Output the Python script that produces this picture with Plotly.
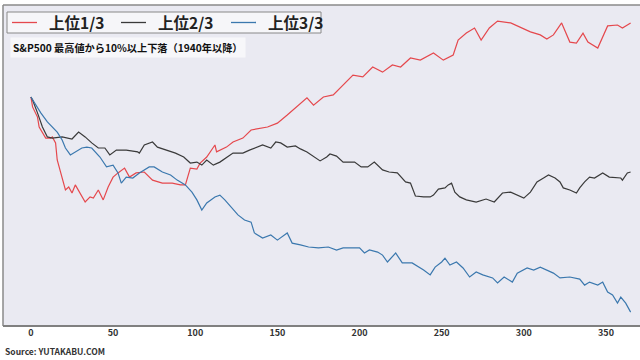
import plotly.graph_objects as go

# Days since drawdown start and relative performance (%) for each group
red_t = [0,1,4,5,9,12,13,15,16,19,21,23,25,27,30,33,36,38,41,44,47,50,53,57,60,64,69,74,80,86,91,94,97,101,103,107,112,113,119,123,129,134,144,150,156,162,168,172,178,184,188,192,196,202,208,214,220,225,231,237,245,251,257,260,265,270,274,279,284,292,298,304,310,314,318,323,328,332,336,339,345,351,357,360,365]
red_v = [0,-3.3,-6.7,-10,-13.7,-13.7,-13.3,-15.3,-21,-26.7,-31,-30,-32,-29.3,-32,-35,-33.3,-33.7,-31,-34.3,-30,-26.7,-25.3,-23.7,-26.7,-25.3,-25,-27.7,-28.7,-28.7,-29.3,-29.3,-23.7,-24,-22,-20,-16,-18.3,-16.7,-15,-13.7,-11,-10,-8.7,-6,-3.3,-0.3,-2.7,0,0.7,3,5,7.3,6.7,10,8.3,10.7,10,13,12.3,14.7,12.3,14,19,21.3,23,19,23,25.3,24.7,23.3,21.7,20.7,19.3,20.7,24.7,18.3,18,21.3,18.3,16.3,23.7,24,23,24.7]

black_t = [0,1,4,7,10,13,19,25,29,33,37,41,45,48,52,58,65,66,69,74,77,82,88,93,97,101,104,107,111,115,119,123,125,129,133,138,141,146,149,152,156,161,164,168,172,176,180,182,186,190,197,201,205,209,214,218,223,228,231,234,239,243,245,248,252,254,256,258,261,265,271,277,282,287,292,296,300,304,308,312,315,319,322,324,328,332,334,337,340,343,348,352,359,360,363,365]
black_v = [0,-1,-5.3,-10,-13.3,-13.7,-13.3,-14,-11.7,-13.3,-15.3,-17,-17,-19.3,-17.7,-17.7,-18.3,-18.7,-16,-15,-16.7,-17.7,-18.7,-20,-22,-21.7,-22.7,-21,-22.7,-21.7,-20.3,-18.7,-18.7,-18.7,-17.7,-16.7,-16,-17,-15,-15.3,-16.7,-16.3,-17.3,-18.3,-19.7,-21.3,-20,-19,-19.7,-21.7,-21.7,-23.3,-23.3,-21.7,-24.3,-25,-25.3,-28.3,-28.7,-33,-33.3,-33.3,-32.7,-30.7,-30.3,-29.3,-28.7,-31.7,-33.3,-34.3,-35,-34,-35,-32,-31.7,-32.7,-33.7,-31.7,-28.3,-27,-26,-27,-28.3,-30.3,-31,-32,-30.3,-28.3,-26.7,-27,-25.3,-26.7,-27,-27.7,-25.3,-25]

blue_t = [0,6,10,13,16,19,21,24,27,31,34,37,42,46,50,53,55,58,62,66,72,75,80,85,89,94,98,101,104,107,112,115,118,122,126,130,134,136,141,146,150,156,159,164,169,175,181,186,190,196,200,203,206,211,214,217,222,226,232,239,243,246,250,252,255,259,263,267,271,275,281,284,288,293,296,302,306,310,314,318,322,328,334,337,340,345,348,351,354,357,359,362,365]
blue_v = [0,-5.3,-8.3,-10,-11.7,-14.3,-17,-19.3,-18.3,-17,-16.7,-17,-20,-23.3,-22.7,-25.3,-28.7,-26.7,-27,-25.3,-23.3,-23.3,-25,-26,-27.7,-29.3,-31.7,-34.3,-37.7,-35.3,-33.3,-32.7,-34.3,-36.7,-39.3,-41,-41.7,-45.3,-47,-46,-47.7,-45.3,-48.7,-49.3,-50,-50.3,-50,-51,-50.3,-50.3,-50.3,-52,-51,-51.7,-52.7,-55,-52,-55.3,-55.3,-57.7,-59.3,-56.7,-55,-53.7,-56,-55,-57,-60,-58.3,-59.3,-60.3,-62,-60,-61.7,-58.7,-57,-57.7,-56.7,-57.7,-58.7,-60.3,-60,-60.7,-62.7,-61.7,-62.7,-61.7,-65,-66,-68.7,-66.7,-68.7,-71.7]

names = ["上位1/3", "上位2/3", "上位3/3"]
colors = ["#E5484D", "#3A3A3A", "#3B78AE"]
x_ticks = [0, 50, 100, 150, 200, 250, 300, 350]
subtitle = "S&P500 最高値から10%以上下落（1940年以降）"
source = "Source: YUTAKABU.COM"

FONT = "Noto Sans CJK JP, Noto Sans, sans-serif"

fig = go.Figure()
for t, v, n, c in zip([red_t, black_t, blue_t], [red_v, black_v, blue_v], names, colors):
    fig.add_trace(go.Scatter(x=t, y=v, mode="lines", name=n, showlegend=False,
                             line=dict(color=c, width=1.2)))

# Plot area in pixels: x 3..640, y 5..326
def px(x):
    return (x - 3) / 637.0

def py(y):
    return (326 - y) / 321.0

shapes = [
    dict(type="line", xref="paper", yref="paper", x0=0, x1=1, y0=1, y1=1,
         line=dict(color="#8A8A8A", width=1.5)),
    dict(type="line", xref="paper", yref="paper", x0=0, x1=0, y0=0, y1=1,
         line=dict(color="#8A8A8A", width=1.5)),
    dict(type="line", xref="paper", yref="paper", x0=0, x1=1, y0=0, y1=0,
         line=dict(color="#808080", width=2)),
    # legend box
    dict(type="rect", xref="paper", yref="paper", x0=px(7), x1=px(321), y0=py(33), y1=py(12),
         fillcolor="#F6F6F9", line=dict(color="#888888", width=1)),
]
annotations = [
    dict(text=subtitle, xref="paper", yref="paper", x=px(10), y=py(47),
         xanchor="left", yanchor="middle", showarrow=False,
         bgcolor="#F7F7FA", borderpad=2,
         font=dict(size=10.2, family=FONT, color="#111111", weight="bold")),
    dict(text=source, xref="paper", yref="paper", x=0.0, y=py(351),
         xanchor="left", yanchor="middle", showarrow=False,
         font=dict(size=8.5, family=FONT, color="#333333", weight="bold")),
]
leg_line_x = [12, 121, 231]
for lx, n, c in zip(leg_line_x, names, colors):
    shapes.append(dict(type="line", xref="paper", yref="paper", x0=px(lx), x1=px(lx + 25),
                       y0=py(22.5), y1=py(22.5), line=dict(color=c, width=1.3)))
    annotations.append(dict(text=n, xref="paper", yref="paper", x=px(lx + 35), y=py(22.5),
                            xanchor="left", yanchor="middle", showarrow=False,
                            font=dict(size=15.5, family=FONT, color="#222222", weight="bold")))

fig.update_layout(
    width=640, height=360,
    margin=dict(l=3, r=0, t=5, b=34),
    paper_bgcolor="white",
    plot_bgcolor="#EAEAF2",
    font=dict(family=FONT, color="#333333"),
    showlegend=False,
    xaxis=dict(range=[-17.0, 370.7], tickvals=x_ticks, showgrid=False, zeroline=False,
               showline=False, ticks="",
               tickfont=dict(size=9, family=FONT, color="#333333", weight="bold")),
    yaxis=dict(range=[-76.33, 30.67], showticklabels=False, showgrid=False,
               zeroline=False, showline=False, ticks=""),
    shapes=shapes,
    annotations=annotations,
)

fig.write_html("out.html", config={"displayModeBar": False},
               post_script="document.body.style.margin='0';document.body.style.padding='0';")
